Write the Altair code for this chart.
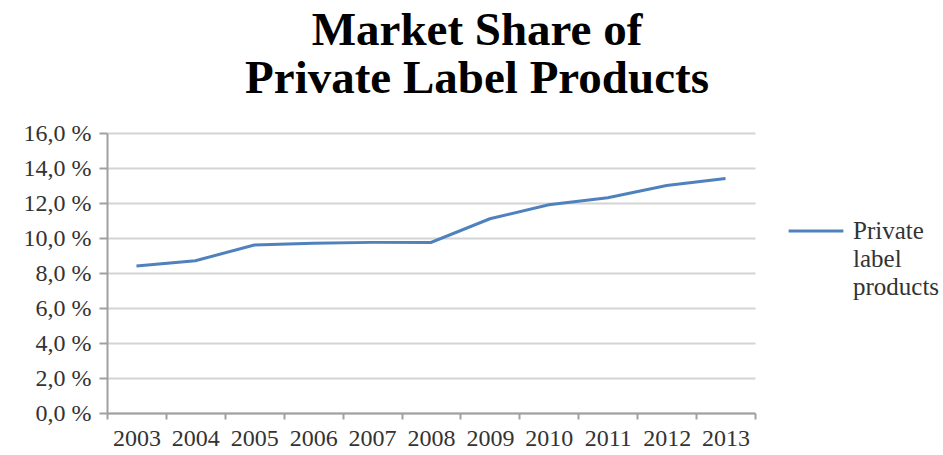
import altair as alt
import pandas as pd

years = ["2003", "2004", "2005", "2006", "2007", "2008", "2009", "2010", "2011", "2012", "2013"]
share = [8.4, 8.7, 9.6, 9.7, 9.75, 9.75, 11.1, 11.9, 12.3, 13.0, 13.4]
series_name = "Private label products"
y_ticks = [0, 2, 4, 6, 8, 10, 12, 14, 16]

df = pd.DataFrame({"year": years, "share": share, "series": [series_name] * len(years)})

FONT = "Liberation Serif"

chart = alt.Chart(df).mark_line(strokeWidth=3).encode(
    x=alt.X("year:N", sort=years, title=None,
            scale=alt.Scale(paddingInner=0, paddingOuter=0),
            axis=alt.Axis(labelAngle=0, tickBand="extent", tickSize=6, grid=False,
                          labelFontSize=24, labelPadding=7)),
    y=alt.Y("share:Q", title=None,
            scale=alt.Scale(domain=[0, 16], nice=False),
            axis=alt.Axis(values=y_ticks, tickSize=8, labelFontSize=24, labelPadding=8,
                          labelExpr="replace(format(datum.value, '.1f'), '.', ',') + ' %'")),
    color=alt.Color("series:N", scale=alt.Scale(range=["#4f81bd"]),
                    legend=alt.Legend(title=None, orient="none", legendX=680, legendY=69,
                                      symbolType="stroke", symbolSize=3000, symbolStrokeWidth=3,
                                      labelFontSize=25, labelLimit=300, labelOffset=8,
                                      labelExpr="split(datum.label, ' ')")),
).properties(
    width=648,
    height=280,
    title=alt.TitleParams(["Market Share of", "Private Label Products"], fontSize=47,
                          font=FONT, fontWeight="bold", color="#000000", anchor="middle",
                          dx=46, offset=18, lineHeight=48),
    autosize=alt.AutoSizeParams(type="none"),
    padding={"left": 107, "top": 133, "right": 188, "bottom": 42},
).configure(
    style={"guide-label": {"lineHeight": 28}},
).configure_axis(
    labelFont=FONT, labelColor="#333333", domainColor="#a0a0a0", tickColor="#a0a0a0",
    gridColor="#d4d4d4", gridWidth=2, domainWidth=2, tickWidth=2,
).configure_legend(
    labelFont=FONT, labelColor="#333333",
).configure_view(stroke=None)

chart.save("out.html", embed_options={"renderer": "svg", "actions": False})
